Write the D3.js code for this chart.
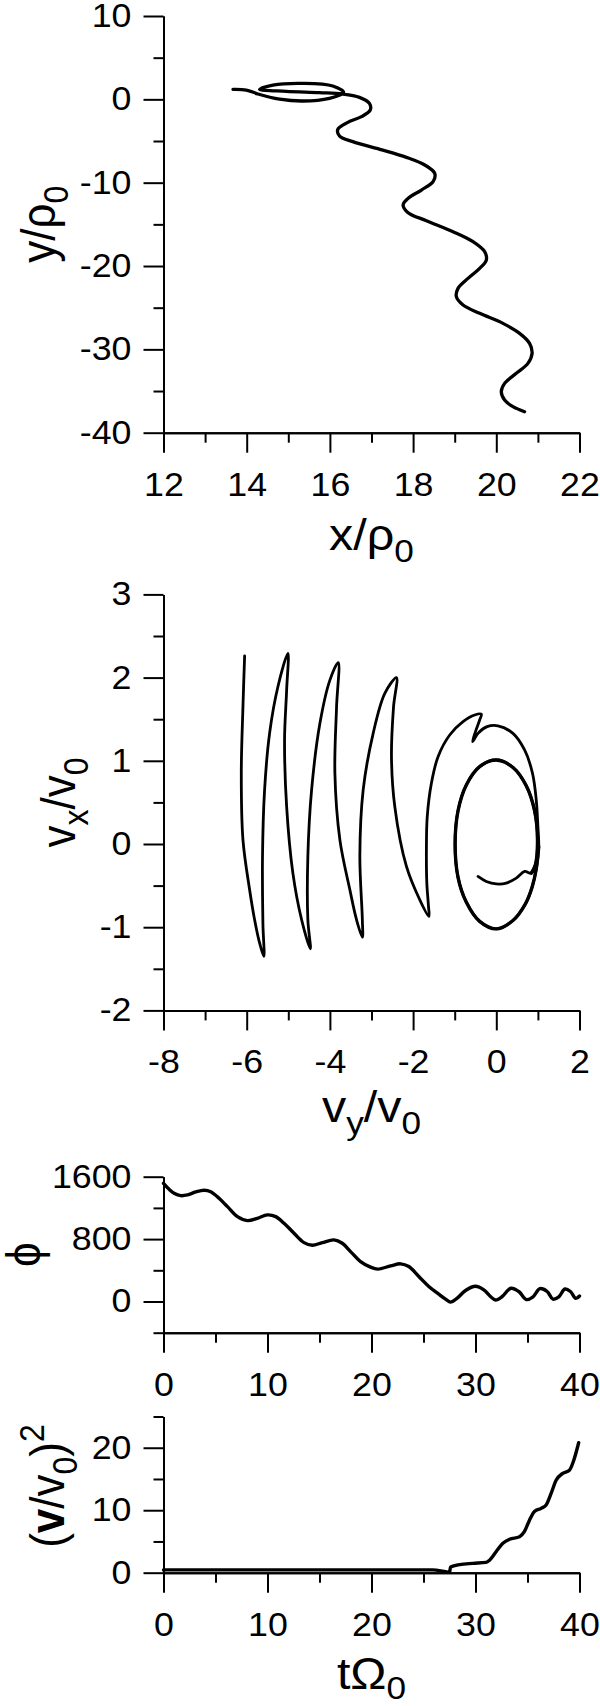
<!DOCTYPE html>
<html>
<head>
<meta charset="utf-8">
<script src="https://cdn.jsdelivr.net/npm/d3@7"></script>
<style>
  html, body { margin: 0; padding: 0; background: #fff; }
  svg { display: block; }
</style>
</head>
<body>
<svg id="chart" width="600" height="1706"></svg>
<script>
// ---------------- DATA ----------------
// Panel 1: trajectory y/rho0 vs x/rho0
const trajX = [13.67,13.99,14.27,14.79,15.35,15.99,16.33,16.07,15.35,14.63,14.31,14.95,15.75,16.31,16.71,16.95,16.97,16.76,16.43,16.19,16.23,16.55,17.20,17.84,18.28,18.52,18.48,18.20,17.88,17.76,17.88,18.32,18.96,19.44,19.72,19.76,19.60,19.32,19.08,19.04,19.20,19.60,20.16,20.56,20.80,20.86,20.76,20.48,20.20,20.12,20.20,20.40,20.68];
const trajY = [1.20,1.12,0.64,0.02,-0.20,0.12,0.80,1.60,1.92,1.72,1.20,0.96,0.80,0.64,0.24,-0.48,-1.28,-2.08,-2.76,-3.60,-4.40,-5.08,-6.00,-6.96,-7.88,-8.88,-9.88,-10.88,-11.88,-12.68,-13.60,-14.56,-15.88,-17.08,-18.28,-19.28,-20.28,-21.48,-22.68,-23.68,-24.68,-25.68,-26.88,-28.08,-29.28,-30.48,-31.68,-32.88,-34.08,-35.08,-36.08,-36.88,-37.48];

// Panel 2: hodograph vx/v0 vs vy/v0
const velVy = [-6.05,-6.09,-6.13,-6.09,-5.93,-5.81,-5.70,-5.59,
  -5.61,-5.62,-5.57,-5.45,-5.25,-5.01,
  -5.04,-5.09,-5.04,-4.89,-4.68,-4.47,
  -4.53,-4.53,-4.44,-4.24,-4.00,-3.80,
  -3.84,-3.88,-3.76,-3.52,-3.36,-3.22,
  -3.22,-3.28,-3.20,-2.96,-2.68,-2.40,
  -2.47,-2.52,-2.44,-2.16,-1.84,-1.62,
  -1.63,-1.67,-1.68,-1.66,-1.56,-1.40,-1.12,-0.80,-0.52,-0.36,-0.40,-0.50,-0.57,-0.44,-0.22,0.04,0.40,0.68,0.87,0.96,1.00,1.02,
  0.96,0.86,0.70,0.40,0.00,-0.40,-0.72,-0.92,-0.99,-0.92,-0.72,-0.40,0.00,0.40,0.72,0.92,0.99,0.94,0.84,
  0.68,0.48,0.24,0.00,-0.24,-0.44];
const velVx = [2.26,1.65,0.85,0.05,-0.55,-0.91,-1.17,-1.35,
  -0.96,-0.15,0.65,1.33,1.89,2.29,
  1.85,1.25,0.45,-0.35,-0.91,-1.26,
  -0.91,-0.15,0.65,1.45,1.97,2.18,
  1.65,0.85,0.05,-0.55,-0.91,-1.12,
  -0.91,-0.15,0.65,1.33,1.81,2.00,
  1.65,1.05,0.45,-0.27,-0.67,-0.87,
  -0.75,-0.47,-0.07,0.33,0.73,1.05,1.31,1.47,1.55,1.56,1.49,1.35,1.23,1.33,1.41,1.42,1.33,1.13,0.85,0.53,0.21,-0.03,
  -0.30,-0.52,-0.72,-0.92,-1.02,-0.93,-0.70,-0.40,0.00,0.40,0.71,0.93,1.01,0.92,0.70,0.40,0.05,-0.25,-0.35,
  -0.33,-0.41,-0.47,-0.48,-0.45,-0.39];
// index range of the repeatedly-traced unit circle inside the hodograph
const circleStart = 65, circleEnd = 85;

// Panel 3: phi vs t
const tPhi = [0.00,0.54,1.02,1.66,2.31,3.10,3.90,4.54,5.34,6.15,7.11,8.07,9.03,9.99,10.79,11.59,12.55,13.51,14.31,15.27,16.39,17.19,17.99,18.95,19.91,20.60,21.84,22.80,23.59,24.55,25.51,26.47,27.12,27.60,28.24,29.04,30.00,30.80,31.44,31.92,32.57,33.40,34.16,34.90,35.50,36.20,36.89,37.45,38.01,38.60,39.13,39.65,40.00];
const phi  = [1515,1439,1388,1357,1366,1404,1426,1408,1323,1216,1088,1037,1067,1110,1088,1003,875,755,722,755,790,747,640,512,440,415,457,483,448,320,192,94,31,-8,43,141,195,150,64,20,64,170,128,25,56,165,128,30,60,160,128,40,70];

// Panel 4: (v/v0)^2 vs t
const tV2 = [0,10,20,25.9,26.86,27.5,27.6,28.47,29.75,31.03,31.35,32.0,32.63,33.27,34.23,34.71,35.19,35.67,36.31,36.79,37.27,37.75,38.39,39.03,39.41,39.92];
const v2  = [0.45,0.45,0.45,0.45,0.25,0.05,0.9,1.3,1.5,1.65,2.0,3.4,4.7,5.35,5.75,6.6,8.4,9.8,10.3,10.85,12.7,14.8,15.9,16.4,17.8,20.8];

// Tick values
const p1xMajor = [12,14,16,18,20,22], p1xMinor = [13,15,17,19,21];
const p1yMajor = [-40,-30,-20,-10,0,10], p1yMinor = [-35,-25,-15,-5,5];
const p2xMajor = [-8,-6,-4,-2,0,2], p2xMinor = [-7,-5,-3,-1,1];
const p2yMajor = [-2,-1,0,1,2,3], p2yMinor = [-1.5,-0.5,0.5,1.5,2.5];
const tMajor = [0,10,20,30,40], tMinor = [5,15,25,35];
const p3yMajor = [0,800,1600], p3yMinor = [-400,400,1200];
const p4yMajor = [0,10,20], p4yMinor = [5,15,25];

// ---------------- DRAWING ----------------
const FONT = "'Liberation Sans', Arial, sans-serif";
const SX = 1.1;            // glyphs in the reference are slightly wide
const TICK_FS = 32.5, TITLE_FS = 44, SUB_FS = 32;
const svg = d3.select("#chart");
svg.append("rect").attr("width",600).attr("height",1706).attr("fill","#fff");

const L = 163.5, R = 579.5;

function styleAxis(g) {
  g.attr("font-size", TICK_FS).attr("font-family", FONT);
  g.selectAll(".domain, line").attr("stroke", "#000").attr("stroke-width", 2);
  g.selectAll("text").each(function() {
    const t = d3.select(this);
    const x = +t.attr("x") || 0, y = +t.attr("y") || 0;
    t.attr("x", 0).attr("y", 0)
     .attr("transform", `translate(${x},${y}) scale(${SX},1)`)
     .attr("fill", "#000").attr("font-size", TICK_FS).attr("font-family", FONT);
  });
}

function axes(x, y, xMaj, xMin, yMaj, yMin) {
  const bottom = y.range()[0];
  const gx = svg.append("g").attr("transform", `translate(0,${bottom})`);
  gx.append("g").call(d3.axisBottom(x).tickValues(xMin).tickSize(10).tickSizeOuter(0).tickFormat("")).call(styleAxis);
  gx.append("g").call(d3.axisBottom(x).tickValues(xMaj).tickSize(20).tickPadding(19.9).tickSizeOuter(0).tickFormat(d => String(d))).call(styleAxis);
  const gy = svg.append("g").attr("transform", `translate(${L},0)`);
  gy.append("g").call(d3.axisLeft(y).tickValues(yMin).tickSize(10).tickSizeOuter(0).tickFormat("")).call(styleAxis);
  gy.append("g").call(d3.axisLeft(y).tickValues(yMaj).tickSize(20).tickPadding(12).tickSizeOuter(0).tickFormat(d => String(d))).call(styleAxis);
}

function titleText(parts, tx, ty, rotate, subShift) {
  const sh = subShift == null ? 11.5 : subShift;
  const t = svg.append("text")
    .attr("transform", `translate(${tx},${ty}) scale(${SX},1)` + (rotate ? " rotate(-90)" : ""))
    .attr("text-anchor", "middle")
    .attr("font-family", FONT).attr("font-size", TITLE_FS).attr("fill", "#000");
  let shift = 0;
  parts.forEach(p => {
    const s = t.append("tspan").text(p.t);
    const target = p.sub ? sh : (p.sup ? -18 : 0);
    s.attr("dy", target - shift);
    shift = target;
    if (p.sub || p.sup) s.attr("font-size", SUB_FS);
    if (p.bold) s.attr("font-weight", "bold");
  });
}

function curve(x, y, xs, ys, crv, w) {
  const pts = xs.map((v, i) => [v, ys[i]]);
  svg.append("path").datum(pts)
    .attr("d", d3.line().x(d => x(d[0])).y(d => y(d[1])).curve(crv))
    .attr("fill", "none").attr("stroke", "#000").attr("stroke-width", w)
    .attr("stroke-linejoin", "round").attr("stroke-linecap", "round");
}

// Panel 1
{
  const x = d3.scaleLinear().domain([12, 22]).range([L, R]);
  const y = d3.scaleLinear().domain([-40, 10]).range([432.7, 16]);
  axes(x, y, p1xMajor, p1xMinor, p1yMajor, p1yMinor);
  curve(x, y, trajX, trajY, d3.curveCatmullRom.alpha(0.5), 3.3);
  titleText([{t:"x/ρ"},{t:"0",sub:true}], 371.5, 550, false);
  titleText([{t:"y/ρ"},{t:"0",sub:true}], 55, 224.3, true);
}
// Panel 2
{
  const x = d3.scaleLinear().domain([-8, 2]).range([L, R]);
  const y = d3.scaleLinear().domain([-2, 3]).range([1010.4, 594.4]);
  axes(x, y, p2xMajor, p2xMinor, p2yMajor, p2yMinor);
  curve(x, y, velVy, velVx, d3.curveCatmullRom.alpha(0.5), 2.8);
  curve(x, y, velVy.slice(circleStart, circleEnd), velVx.slice(circleStart, circleEnd), d3.curveCatmullRom.alpha(0.5), 3.4);
  titleText([{t:"v"},{t:"y",sub:true},{t:"/v"},{t:"0",sub:true}], 371.5, 1122, false);
  titleText([{t:"v"},{t:"x",sub:true},{t:"/v"},{t:"0",sub:true}], 75, 802.4, true);
}
// Panel 3
{
  const x = d3.scaleLinear().domain([0, 40]).range([L, R]);
  const y = d3.scaleLinear().domain([-400, 1600]).range([1332.7, 1176.7]);
  axes(x, y, tMajor, tMinor, p3yMajor, p3yMinor);
  curve(x, y, tPhi, phi, d3.curveCatmullRom.alpha(0.5), 3.4);
  titleText([{t:"ϕ"}], 40, 1254.7, true);
}
// Panel 4
{
  const x = d3.scaleLinear().domain([0, 40]).range([L, R]);
  const y = d3.scaleLinear().domain([0, 25]).range([1572.7, 1416.5]);
  axes(x, y, tMajor, tMinor, p4yMajor, p4yMinor);
  curve(x, y, tV2, v2, d3.curveMonotoneX, 3.4);
  titleText([{t:"tΩ"},{t:"0",sub:true}], 371.5, 1689, false, 10);
  titleText([{t:"("},{t:"v",bold:true},{t:"/v"},{t:"0",sub:true},{t:")"},{t:"2",sup:true}], 64, 1486, true);
}
</script>
</body>
</html>
